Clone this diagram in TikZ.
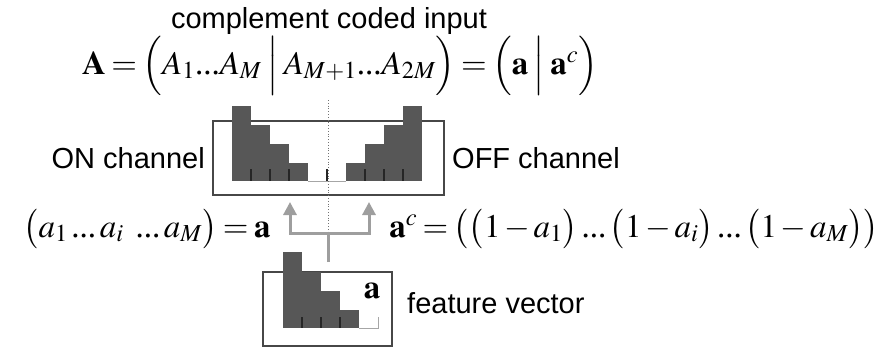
\documentclass[tikz,border=0pt]{standalone}
\usepackage{amsmath}
\usepackage{mathptmx}
\usepackage[no-math]{fontspec}
\setmainfont{Liberation Serif}
\setsansfont{Liberation Sans}
\usetikzlibrary{arrows.meta}

% compact baseline dots and tight relation spacing for the formulas
\newcommand{\dts}{\text{...}}
\newcommand{\sdts}{\,\text{...}\,}
\newcommand{\eqsetup}{\fontsize{33}{40}\selectfont\thickmuskip=3mu plus 1mu\medmuskip=2mu plus 1mu}

\begin{document}
\begin{tikzpicture}[x=1pt,y=-1pt,
  lbl/.style={font=\sffamily\fontsize{29}{32}\selectfont, inner sep=0pt},
  eq/.style={font=\eqsetup, inner sep=0pt},
  frame/.style={draw=black!72, line width=1.4pt, inner sep=0pt, outer sep=0pt},
  bar/.style={fill=black!66},
  tickmark/.style={draw=black!85, line width=1.2pt},
  baseline/.style={draw=black!35, line width=1pt},
  feedline/.style={draw=black!38, line width=3pt},
  feed/.style={feedline, -{Triangle[length=13pt,width=13pt]}},
]
\useasboundingbox (0,0) rectangle (887,348);

% ---- channel box with ON / OFF histograms ----
\node[frame, minimum width=231pt, minimum height=74pt] (chan) at (328.5,158) {};
\foreach \i/\t in {0/106,1/125,2/144,3/163}
  \fill[bar] ({232+19*\i},\t) rectangle ({251+19*\i},181);
\foreach \i/\t in {0/163,1/144,2/125,3/106}
  \fill[bar] ({346+19*\i},\t) rectangle ({365+19*\i},181);
\draw[baseline] (308,181) -- (346,181);
\foreach \x in {251,270,289,327,365,384,403}
  \draw[tickmark] (\x,169) -- (\x,181);

% ---- feature vector box ----
\node[frame, minimum width=129pt, minimum height=74pt] (feat) at (327.5,309) {};
\foreach \i/\t in {0/252,1/272,2/291,3/310}
  \fill[bar] ({283+19*\i},\t) rectangle ({302+19*\i},328);
\draw[baseline] (359,328) -- (378,328) -- (378,317);
\foreach \x in {302,321,340}
  \draw[tickmark] (\x,317) -- (\x,328);
\node[eq, anchor=base] (avec) at (372,298) {$\mathbf{a}$};

% ---- split connector ----
\coordinate (junction) at (328.5,233);
\coordinate (onport) at (290,202);
\coordinate (offport) at (369,202);
\draw[dotted, black!55, line width=0.8pt] (328.5,100) -- (junction);
\draw[feedline] ([yshift=10pt]feat.north -| junction) -- (junction);
\draw[feed] (junction) -| (onport);
\draw[feed] (junction) -| (offport);

% ---- labels ----
\node[lbl, anchor=base] (title) at (329,28) {complement coded input};
\node[lbl, anchor=base east] (onlbl) at (205,168) {ON channel};
\node[lbl, anchor=base west] (offlbl) at (452,168) {OFF channel};
\node[lbl, anchor=base west] (featlbl) at (407,313) {feature vector};

% ---- formulas ----
\node[eq, anchor=base] (Aeq) at (340,74)
  {$\mathbf{A}=\Bigl(A_1\dts A_M\Bigm| A_{M+1}\dts A_{2M}\Bigr)=\Bigl(\mathbf{a}\Bigm|\mathbf{a}^c\Bigr)$};
\node[eq, anchor=base] (aeq) at (147,237)
  {$\bigl(a_1\sdts a_i\ \sdts a_M\bigr)=\mathbf{a}$};
\node[eq, anchor=base] (aceq) at (634,237)
  {$\mathbf{a}^c=\bigl(\bigl(1-a_1\bigr)\sdts\bigl(1-a_i\bigr)\sdts\bigl(1-a_M\bigr)\bigr)$};
\end{tikzpicture}
\end{document}
